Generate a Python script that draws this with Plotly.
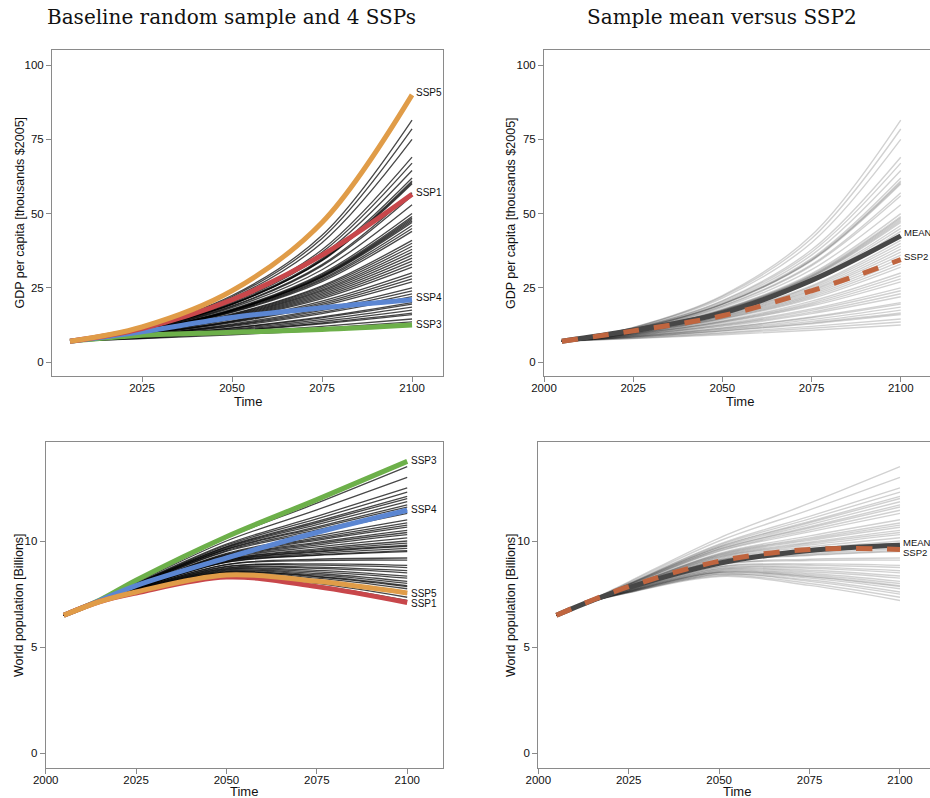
import plotly.graph_objects as go

# ---------------- DATA ----------------
gdp_years = [2005, 2025, 2050, 2075, 2100]
gdp_samples = [
    [7, 11.7, 22.4, 42.7, 81.5],
    [7, 11.6, 22.0, 41.6, 78.5],
    [7, 11.5, 21.5, 40.2, 75.0],
    [7, 11.3, 20.7, 37.8, 69.0],
    [7, 11.3, 20.4, 37.0, 67.0],
    [7, 11.2, 20.0, 36.0, 64.5],
    [7, 11.1, 19.7, 34.9, 62.0],
    [7, 11.0, 19.5, 34.5, 61.0],
    [7, 11.0, 19.4, 34.3, 60.5],
    [7, 11.0, 19.4, 34.1, 60.0],
    [7, 10.9, 18.9, 32.8, 57.0],
    [7, 10.8, 18.7, 32.4, 56.0],
    [7, 10.7, 18.3, 31.1, 53.0],
    [7, 10.6, 17.8, 29.8, 50.0],
    [7, 10.5, 17.6, 29.4, 49.0],
    [7, 10.5, 17.5, 29.1, 48.5],
    [7, 10.5, 17.4, 28.9, 48.0],
    [7, 10.5, 17.3, 28.7, 47.5],
    [7, 10.5, 17.3, 28.5, 47.0],
    [7, 10.4, 17.1, 28.0, 46.0],
    [7, 10.4, 16.9, 27.6, 45.0],
    [7, 10.3, 16.7, 27.1, 44.0],
    [7, 10.2, 16.2, 25.7, 41.0],
    [7, 10.1, 16.0, 25.3, 40.0],
    [7, 10.1, 15.8, 24.8, 39.0],
    [7, 10.0, 15.6, 24.3, 38.0],
    [7, 9.9, 15.4, 23.9, 37.0],
    [7, 9.9, 15.2, 23.4, 36.0],
    [7, 9.8, 15.0, 22.9, 35.0],
    [7, 9.8, 14.8, 22.4, 34.0],
    [7, 9.7, 14.6, 21.9, 33.0],
    [7, 9.6, 14.4, 21.4, 32.0],
    [7, 9.5, 13.9, 20.5, 30.0],
    [7, 9.4, 13.7, 19.9, 29.0],
    [7, 9.4, 13.5, 19.4, 28.0],
    [7, 9.3, 13.3, 18.9, 27.0],
    [7, 9.1, 12.8, 17.9, 25.0],
    [7, 9.1, 12.5, 17.4, 24.0],
    [7, 9.0, 12.3, 16.8, 23.0],
    [7, 8.9, 12.0, 16.3, 22.0],
    [7, 8.7, 11.5, 15.2, 20.0],
    [7, 8.7, 11.4, 14.9, 19.5],
    [7, 8.6, 11.1, 14.3, 18.5],
    [7, 8.5, 10.8, 13.7, 17.5],
    [7, 8.4, 10.5, 13.2, 16.5],
    [7, 8.3, 10.4, 12.9, 16.0],
    [7, 8.2, 9.9, 12.0, 14.5],
    [7, 8.0, 9.6, 11.4, 13.5],
    [7, 7.9, 9.2, 10.7, 12.5],
]
gdp_ssp1 = [7, 11.3, 21.0, 36.0, 56.5]
gdp_ssp3 = [7, 9.0, 10.0, 11.0, 12.5]
gdp_ssp4 = [7, 10.2, 15.0, 18.3, 21.0]
gdp_ssp5 = [7, 11.8, 24.0, 47.0, 90.0]
gdp_mean = [7, 10.7, 16.5, 27.5, 42.5]
gdp_ssp2 = [7, 10.5, 15.6, 24.0, 34.5]

pop_years = [2005, 2015, 2025, 2050, 2075, 2100]
pop_samples = [
    [6.5, 7.25, 8.08, 10.14, 11.78, 13.5],
    [6.5, 7.24, 8.04, 10.0, 11.47, 13.0],
    [6.5, 7.23, 8.0, 9.85, 11.16, 12.5],
    [6.5, 7.23, 7.98, 9.8, 11.04, 12.3],
    [6.5, 7.23, 7.97, 9.74, 10.92, 12.1],
    [6.5, 7.22, 7.96, 9.71, 10.86, 12.0],
    [6.5, 7.22, 7.95, 9.67, 10.77, 11.85],
    [6.5, 7.22, 7.93, 9.62, 10.67, 11.7],
    [6.5, 7.22, 7.93, 9.6, 10.61, 11.6],
    [6.5, 7.22, 7.91, 9.55, 10.52, 11.45],
    [6.5, 7.21, 7.9, 9.51, 10.43, 11.3],
    [6.5, 7.21, 7.87, 9.42, 10.24, 11.0],
    [6.5, 7.21, 7.86, 9.38, 10.15, 10.85],
    [6.5, 7.21, 7.85, 9.35, 10.09, 10.75],
    [6.5, 7.2, 7.85, 9.32, 10.03, 10.65],
    [6.5, 7.2, 7.83, 9.28, 9.94, 10.5],
    [6.5, 7.2, 7.83, 9.25, 9.88, 10.4],
    [6.5, 7.2, 7.82, 9.22, 9.81, 10.3],
    [6.5, 7.2, 7.8, 9.18, 9.72, 10.15],
    [6.5, 7.19, 7.79, 9.13, 9.63, 10.0],
    [6.5, 7.19, 7.78, 9.11, 9.57, 9.9],
    [6.5, 7.19, 7.77, 9.08, 9.51, 9.8],
    [6.5, 7.19, 7.77, 9.06, 9.48, 9.75],
    [6.5, 7.19, 7.76, 9.03, 9.41, 9.65],
    [6.5, 7.19, 7.75, 9.0, 9.35, 9.55],
    [6.5, 7.19, 7.75, 8.99, 9.32, 9.5],
    [6.5, 7.18, 7.72, 8.9, 9.14, 9.2],
    [6.5, 7.18, 7.72, 8.88, 9.08, 9.1],
    [6.5, 7.18, 7.7, 8.8, 8.92, 8.85],
    [6.5, 7.18, 7.69, 8.78, 8.86, 8.75],
    [6.5, 7.17, 7.67, 8.73, 8.77, 8.6],
    [6.5, 7.17, 7.67, 8.7, 8.71, 8.5],
    [6.5, 7.17, 7.65, 8.66, 8.62, 8.35],
    [6.5, 7.17, 7.65, 8.63, 8.55, 8.25],
    [6.5, 7.17, 7.63, 8.59, 8.47, 8.1],
    [6.5, 7.16, 7.62, 8.56, 8.4, 8.0],
    [6.5, 7.16, 7.62, 8.53, 8.34, 7.9],
    [6.5, 7.16, 7.61, 8.52, 8.31, 7.85],
    [6.5, 7.16, 7.6, 8.49, 8.25, 7.75],
    [6.5, 7.16, 7.59, 8.44, 8.16, 7.6],
    [6.5, 7.16, 7.58, 8.42, 8.1, 7.5],
    [6.5, 7.15, 7.57, 8.37, 8.0, 7.35],
    [6.5, 7.15, 7.56, 8.33, 7.91, 7.2],
]
pop_ssp1 = [6.5, 7.15, 7.55, 8.3, 7.85, 7.1]
pop_ssp3 = [6.5, 7.22, 8.15, 10.2, 11.95, 13.75]
pop_ssp4 = [6.5, 7.2, 7.9, 9.2, 10.4, 11.45]
pop_ssp5 = [6.5, 7.15, 7.6, 8.4, 8.1, 7.55]
pop_mean = [6.5, 7.2, 7.8, 8.95, 9.55, 9.8]
pop_ssp2 = [6.5, 7.22, 7.85, 9.05, 9.6, 9.6]

titles = ["Baseline random sample and 4 SSPs", "Sample mean versus SSP2"]
gdp_ticks = [0, 25, 50, 75, 100]
pop_ticks = [0, 5, 10]
year_ticks = [2000, 2025, 2050, 2075, 2100]

# ---------------- STYLE ----------------
W, H = 930, 798
C_SSP1 = "#C8474B"
C_SSP3 = "#6DB04A"
C_SSP4 = "#5B86D2"
C_SSP5 = "#E09C48"
C_SSP2 = "#C0653F"
C_MEAN = "#474747"
SANS = "Liberation Sans, Arial, Helvetica, sans-serif"
SERIF = "DejaVu Serif, Liberation Serif, serif"

def px_x(p):
    return p / W

def px_y(p):
    return 1 - p / H

fig = go.Figure()

def add_line(xs, ys, ax, color, width, dash="solid"):
    fig.add_trace(go.Scatter(
        x=xs, y=ys, mode="lines", xaxis="x" + ax, yaxis="y" + ax,
        line=dict(color=color, width=width, shape="spline", dash=dash),
        hoverinfo="skip", showlegend=False))

# Top-left
for s in gdp_samples:
    add_line(gdp_years, s, "", "rgba(0,0,0,0.72)", 1.3)
for ys, c in [(gdp_ssp3, C_SSP3), (gdp_ssp4, C_SSP4), (gdp_ssp1, C_SSP1), (gdp_ssp5, C_SSP5)]:
    add_line(gdp_years, ys, "", c, 5)
# Top-right
for s in gdp_samples:
    add_line(gdp_years, s, "2", "rgba(0,0,0,0.18)", 1.4)
add_line(gdp_years, gdp_mean, "2", C_MEAN, 5)
add_line(gdp_years, gdp_ssp2, "2", C_SSP2, 5, dash="16px,15px")
# Bottom-left
for s in pop_samples:
    add_line(pop_years, s, "3", "rgba(0,0,0,0.72)", 1.3)
for ys, c in [(pop_ssp3, C_SSP3), (pop_ssp4, C_SSP4), (pop_ssp1, C_SSP1), (pop_ssp5, C_SSP5)]:
    add_line(pop_years, ys, "3", c, 5)
# Bottom-right
for s in pop_samples:
    add_line(pop_years, s, "4", "rgba(0,0,0,0.18)", 1.4)
add_line(pop_years, pop_mean, "4", C_MEAN, 5)
add_line(pop_years, pop_ssp2, "4", C_SSP2, 5, dash="16px,15px")

axis_common = dict(
    showline=True, linecolor="#8a8a8a", linewidth=1,
    ticks="outside", ticklen=5, tickcolor="#8a8a8a", tickwidth=1,
    showgrid=False, zeroline=False, automargin=False,
    tickfont=dict(family=SANS, size=11.5, color="#111"),
)

def xax(dom, rng, anchor, tickvals):
    d = dict(axis_common)
    d.update(domain=dom, range=rng, anchor=anchor, tickvals=tickvals,
             ticktext=[str(v) for v in tickvals], mirror=True,
             ticklabelstandoff=-4)
    return d

def yax(dom, rng, anchor, tickvals, mirror):
    d = dict(axis_common)
    d.update(domain=dom, range=rng, anchor=anchor, tickvals=tickvals,
             ticktext=[str(v) for v in tickvals], mirror=mirror)
    return d

top_dom = [px_y(376), px_y(50)]
bot_dom = [px_y(767.7), px_y(442.3)]

fig.update_layout(
    template="none",
    width=W, height=H,
    margin=dict(l=0, r=0, t=0, b=0, pad=0, autoexpand=False),
    paper_bgcolor="white", plot_bgcolor="white",
    xaxis=xax([px_x(52), px_x(443)], [2000, 2108.6], "y", year_ticks[1:]),
    yaxis=yax(top_dom, [-4.7, 105.1], "x", gdp_ticks, True),
    xaxis2=xax([px_x(544), 1.0], [2000, 2108.2], "y2", year_ticks),
    yaxis2=yax(top_dom, [-4.7, 105.1], "x2", gdp_ticks, False),
    xaxis3=xax([px_x(45.7), px_x(443)], [2000, 2109.9], "y3", year_ticks),
    yaxis3=yax(bot_dom, [-0.68, 14.65], "x3", pop_ticks, True),
    xaxis4=xax([px_x(538.3), 1.0], [2000, 2108.3], "y4", year_ticks),
    yaxis4=yax(bot_dom, [-0.68, 14.65], "x4", pop_ticks, False),
)

ann = []
# Panel titles
for txt, cx in zip(titles, [231, 722]):
    ann.append(dict(text=txt, x=px_x(cx), y=px_y(17), xref="paper", yref="paper",
                    xanchor="center", yanchor="middle", showarrow=False,
                    font=dict(family=SERIF, size=20, color="#111")))
# Axis titles
for cx, cy in [(247.5, 401), (740, 401), (244, 791.5), (737, 791.5)]:
    ann.append(dict(text="Time", x=px_x(cx), y=px_y(cy), xref="paper", yref="paper",
                    xanchor="center", yanchor="middle", showarrow=False,
                    font=dict(family=SANS, size=13, color="#111")))
for txt, cx, cy in [("GDP per capita [thousands $2005]", 19.5, 213),
                    ("GDP per capita [thousands $2005]", 511, 213),
                    ("World population [Billions]", 19, 605),
                    ("World population [Billions]", 511, 605)]:
    ann.append(dict(text=txt, x=px_x(cx), y=px_y(cy), xref="paper", yref="paper",
                    xanchor="center", yanchor="middle", showarrow=False, textangle=-90,
                    font=dict(family=SANS, size=12.5, color="#111")))

# End-of-line labels
def end_label(txt, ys, ax, yshift, size=10):
    ann.append(dict(text=txt, x=2100, y=ys[-1], xref="x" + ax, yref="y" + ax,
                    xanchor="left", yanchor="middle", xshift=1.5, yshift=yshift,
                    showarrow=False, font=dict(family=SANS, size=size, color="#111")))

end_label("SSP5", gdp_ssp5, "", 2)
end_label("SSP1", gdp_ssp1, "", 2)
end_label("SSP4", gdp_ssp4, "", 2)
end_label("SSP3", gdp_ssp3, "", 0)
end_label("MEAN", gdp_mean, "2", 3, 9.5)
end_label("SSP2", gdp_ssp2, "2", 3, 9.5)
end_label("SSP3", pop_ssp3, "3", 1)
end_label("SSP4", pop_ssp4, "3", 1)
end_label("SSP5", pop_ssp5, "3", 0)
end_label("SSP1", pop_ssp1, "3", -1)
end_label("MEAN", pop_mean, "4", 3, 9.5)
end_label("SSP2", pop_ssp2, "4", -3, 9.5)

fig.update_layout(annotations=ann)
fig.write_html("out.html")
